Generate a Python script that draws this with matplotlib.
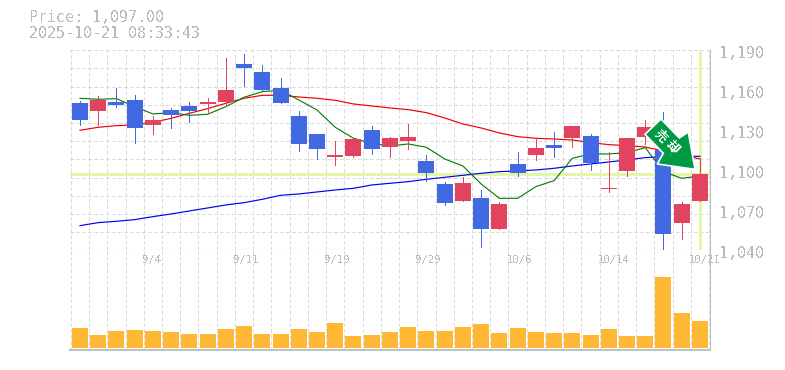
import matplotlib

matplotlib.use("Agg")
import matplotlib.pyplot as plt
from matplotlib.patches import Polygon

plt.rcParams["text.antialiased"] = False

# trading days, one per candle
dates = ["8/29", "9/1", "9/2", "9/3", "9/4", "9/5", "9/8", "9/9", "9/10", "9/11",
         "9/12", "9/16", "9/17", "9/18", "9/19", "9/22", "9/24", "9/25", "9/26", "9/29",
         "9/30", "10/1", "10/2", "10/3", "10/6", "10/7", "10/8", "10/9", "10/10", "10/14",
         "10/15", "10/16", "10/17", "10/20", "10/21"]
opens = [1150.5, 1144.5, 1151.25, 1152.75, 1134, 1145.25, 1148.25, 1149.75, 1151.25, 1179.75,
         1173.75, 1161.75, 1140.75, 1127.25, 1110, 1110.75, 1130.25, 1117.5, 1122, 1107,
         1089.75, 1077, 1079.25, 1056, 1104.75, 1111.5, 1119, 1124.25, 1125.75, 1086,
         1099.5, 1125, 1115.25, 1060.5, 1077]
highs = [1152.25, 1155.75, 1161.75, 1156.5, 1140.75, 1146.75, 1151.25, 1154.25, 1184.25, 1187.25,
         1179, 1169.25, 1144.5, 1127.25, 1122, 1123.5, 1133.25, 1125, 1134.75, 1111.5,
         1091.25, 1095, 1085.25, 1076.25, 1113.75, 1124.25, 1128.75, 1133.25, 1127.25, 1113.75,
         1124.25, 1137.75, 1143.75, 1076.25, 1109]
lows = [1134, 1134, 1147.5, 1120.5, 1127.25, 1131.75, 1136.25, 1143.75, 1148.25, 1163.25,
        1160.25, 1150.5, 1114.5, 1108.5, 1104, 1110, 1112.25, 1110, 1116, 1092,
        1074, 1077, 1042.5, 1056, 1095.75, 1107.75, 1110, 1117.5, 1100.25, 1083.75,
        1095.75, 1120, 1040, 1048.5, 1077]
closes = [1137.75, 1152.75, 1149, 1131.75, 1137.75, 1141.5, 1144.5, 1151.25, 1160.25, 1176.75,
          1160.25, 1150.5, 1119.75, 1116, 1111.5, 1123.5, 1116, 1124.25, 1125, 1098,
          1075.5, 1090.5, 1056, 1074.75, 1098, 1116.75, 1116.75, 1133.25, 1105.5, 1086.75,
          1124.25, 1132.5, 1052.25, 1074.75, 1097.25]
ma_short = [1154, 1153.25, 1153.75, 1147.75, 1142.25, 1143.25, 1141.25, 1142, 1147.75, 1154.75,
            1159, 1160, 1152.75, 1145.25, 1132.25, 1124, 1120.25, 1118.25, 1119.75, 1117.25,
            1108.5, 1103.25, 1089.75, 1079, 1079, 1087.75, 1092.25, 1109, 1112.25, 1112.25,
            1113.25, 1117, 1099, 1094, 1095.75]
ma_mid = [1130, 1132.25, 1133.5, 1134, 1136, 1139, 1142.75, 1146.25, 1150.25, 1154,
          1156.25, 1156.25, 1155, 1154, 1152.5, 1149.75, 1148.25, 1146.75, 1145.5, 1143.25,
          1139.25, 1134.75, 1131.75, 1128, 1125.25, 1124, 1123.5, 1122.75, 1120.75, 1119.25,
          1118.5, 1117.5, 1114.5, 1111.5, 1108.5]
ma_long = [1058.5, 1060.75, 1061.75, 1063, 1065.25, 1067.25, 1069.5, 1071.75, 1074, 1075.75,
           1078.25, 1081.25, 1082.25, 1083.75, 1085.25, 1086.5, 1089, 1090.25, 1091.5, 1093.25,
           1094.75, 1096.25, 1097.75, 1099, 1099.5, 1100.25, 1101.5, 1103.25, 1104.75, 1106.25,
           1107.75, 1109.5, 1110.25, 1110.5, 1110.5]
volumes = [60, 39, 51, 54, 51, 48, 42, 42, 57, 66, 42, 42, 57, 48, 75, 36, 39, 48,
           63, 51, 51, 63, 72, 45, 60, 48, 45, 45, 39, 57, 36, 36, 213, 105, 81]
price_ticks = [1040, 1070, 1100, 1130, 1160, 1190]
last_price = 1097.00
timestamp = "2025-10-21 08:33:43"

W, H = 785, 370
BLUE = "#4169E1"
RED = "#E2435F"
GRID = "#DCDCDC"
AXIS = "#C0C0C0"
TEXT = "#BBBBBB"
HILITE = "#E4F5A8"
MONO = "DejaVu Sans Mono"
THIN = 0.7  # one pixel once antialiasing is off


def px_rect(x0, y0, x1, y1):
    return [x0 / W, 1 - y1 / H, (x1 - x0) / W, (y1 - y0) / H]


fig = plt.figure(figsize=(W / 100, H / 100), dpi=100)
ax = fig.add_axes(px_rect(70.3, 50.3, 710, 250.3))
ax_vol = fig.add_axes(px_rect(70.3, 250.3, 710, 350.3))

n = len(dates)
bar_w = 16 / 18.235
for a in (ax, ax_vol):
    a.set_xlim(-0.53, n - 0.45)
    a.set_xticks([i - 0.5 for i in range(n + 1)])
    a.tick_params(length=0, labelbottom=False, labelleft=False)
    a.grid(axis="x", color=GRID, lw=THIN, ls=(0, (4, 3)), antialiased=False)
    a.set_axisbelow(True)
    for side in a.spines:
        a.spines[side].set_visible(False)
    a.spines["right"].set_visible(True)
    a.spines["right"].set_color(AXIS)
    a.spines["bottom"].set_visible(True)
    a.spines["bottom"].set_color(AXIS)
ax_vol.spines["bottom"].set_linewidth(1.5)

ax.set_ylim(1040, 1190)
ax.set_yticks([1040 + 150 * i / 11 for i in range(12)])
ax.grid(axis="y", color=GRID, lw=THIN, ls=(0, (4, 3)), antialiased=False)

ax.axhline(last_price, color=HILITE, lw=2.1, zorder=1, antialiased=False)
ax.plot([n - 1, n - 1], [1041, 1189], color=HILITE, lw=2.1, zorder=1, antialiased=False)

xs = list(range(n))
ax.plot(xs, ma_long, color="#0000EE", lw=0.85, zorder=2)
ax.plot(xs, ma_mid, color="#EE0000", lw=0.85, zorder=2)
ax.plot(xs, ma_short, color="#007700", lw=0.8, zorder=2)

for i in xs:
    c = RED if closes[i] >= opens[i] else BLUE
    ax.plot([i, i], [lows[i], highs[i]], color=c, lw=THIN, zorder=3, solid_capstyle="butt", antialiased=False)
    # dojis still show as a thin bar
    ax.bar(i, abs(closes[i] - opens[i]), bottom=min(opens[i], closes[i]),
           width=bar_w, color=c, lw=0, zorder=4, antialiased=False)

ax_vol.bar(xs, volumes, width=bar_w, color="#FFB833", lw=0, zorder=3, antialiased=False)
ax_vol.set_ylim(-6, 294)

for i in range(4, n, 5):
    ax_vol.annotate(dates[i], (i, 0.90), xycoords=ax_vol.get_xaxis_transform(), xytext=(-7.9, 0),
                    textcoords="offset points", ha="left", va="center",
                    family=MONO, fontsize=7.6, color=TEXT, zorder=1)

for p in price_ticks:
    # labels sit 3px under their real level in the reference
    ax.annotate(f"{p:,}", (1, p), xycoords=ax.get_yaxis_transform(), xytext=(6.5, -2.6),
                textcoords="offset points", ha="left", va="center", family=MONO,
                fontsize=10.8, color=TEXT, annotation_clip=False)

fig.text(29 / W, 1 - 18 / H, f"Price: {last_price:,.2f}", family=MONO, fontsize=10.8,
         color=TEXT, va="center", ha="left")
fig.text(29 / W, 1 - 33 / H, timestamp, family=MONO, fontsize=10.8, color=TEXT,
         va="center", ha="left")

# sell-signal arrow, drawn in pixels on top of everything
arrow_px = [(661, 119), (679.3, 138), (688.3, 132), (695, 169.3), (657.3, 164), (663.3, 153.3), (645, 134.3)]
arrow = Polygon([(x / W, 1 - y / H) for x, y in arrow_px], closed=True, transform=fig.transFigure,
                facecolor="#009944", edgecolor="white", lw=1.2, zorder=10)
fig.add_artist(arrow)
fig.text(660.7 / W, 1 - 135.7 / H, "売", family=["Noto Sans CJK JP", "DejaVu Sans"], fontsize=9,
         fontweight="bold", color="white", ha="center", va="center", rotation=-45, zorder=11)
fig.text(672.7 / W, 1 - 147.5 / H, "却", family=["Noto Sans CJK JP", "DejaVu Sans"], fontsize=9,
         fontweight="bold", color="white", ha="center", va="center", rotation=-45, zorder=11)

fig.savefig("out.png", dpi=100)
